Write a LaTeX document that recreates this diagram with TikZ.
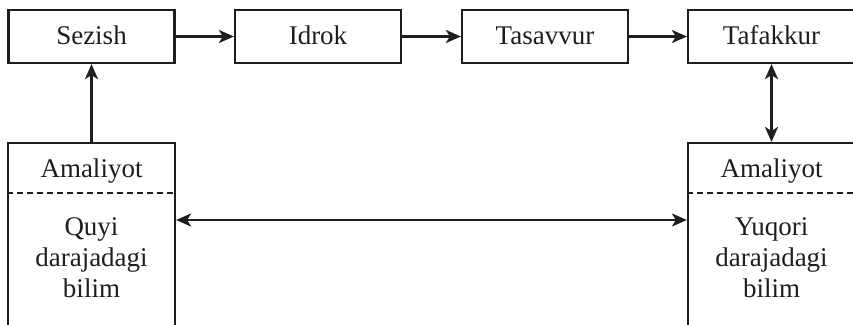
\documentclass[tikz,border=0pt]{standalone}
\usepackage{fontspec}
\setmainfont{Liberation Serif}
\usetikzlibrary{arrows.meta}
\definecolor{ink}{HTML}{1E1E1E}
\tikzset{
  tip/.tip={Stealth[length=15pt,width=13pt,inset=4pt]},
  box/.style={draw=ink, line width=2.2pt, rectangle, minimum width=166pt, minimum height=53pt,
    text height=20.5pt, text depth=5pt, inner sep=0pt, font=\fontsize{27}{31}\selectfont, text=ink},
  lowbox/.style={draw=ink, line width=2.2pt, rectangle, minimum width=167pt, minimum height=220pt,
    inner sep=0pt, anchor=north},
  lbl/.style={font=\fontsize{27}{31}\selectfont, text=ink, inner sep=0pt},
  arr/.style={draw=ink, line width=2.6pt, -tip},
  darr/.style={draw=ink, line width=2.6pt, tip-tip},
  sep/.style={draw=ink, line width=1.3pt, dash pattern=on 6pt off 4pt}
}
\begin{document}
\begin{tikzpicture}[x=1pt,y=-1pt]
\useasboundingbox (0,0) rectangle (853,324);
\node[box] (sezish) at (91.5,36.5) {Sezish};
\node[box] (idrok) at (318,36.5) {Idrok};
\node[box] (tasavvur) at (545,36.5) {Tasavvur};
\node[box, minimum width=167pt] (tafakkur) at (771.5,36.5) {Tafakkur};
\node[lowbox] (lowL) at (91.5,142) {};
\node[lowbox] (lowR) at (771.5,142) {};
\node[lbl, anchor=base] (amL) at (91.5,177) {Amaliyot};
\node[lbl, anchor=base] (amR) at (771.5,177) {Amaliyot};
\draw[sep] (lowL.west |- 0,193) -- (lowL.east |- 0,193);
\draw[sep] (lowR.west |- 0,193) -- (lowR.east |- 0,193);
\node[lbl, anchor=base, align=center] (txL) at (91.5,297) {Quyi\\darajadagi\\bilim};
\node[lbl, anchor=base, align=center] (txR) at (771.5,297) {Yuqori\\darajadagi\\bilim};
\draw[arr] (sezish) -- (idrok);
\draw[arr] (idrok) -- (tasavvur);
\draw[arr] (tasavvur) -- (tafakkur);
\draw[arr] (lowL.north) -- (sezish.south);
\draw[darr] (tafakkur.south) -- (lowR.north);
\draw[darr] (lowL.east |- 0,220) -- (lowR.west |- 0,220);
\end{tikzpicture}
\end{document}
